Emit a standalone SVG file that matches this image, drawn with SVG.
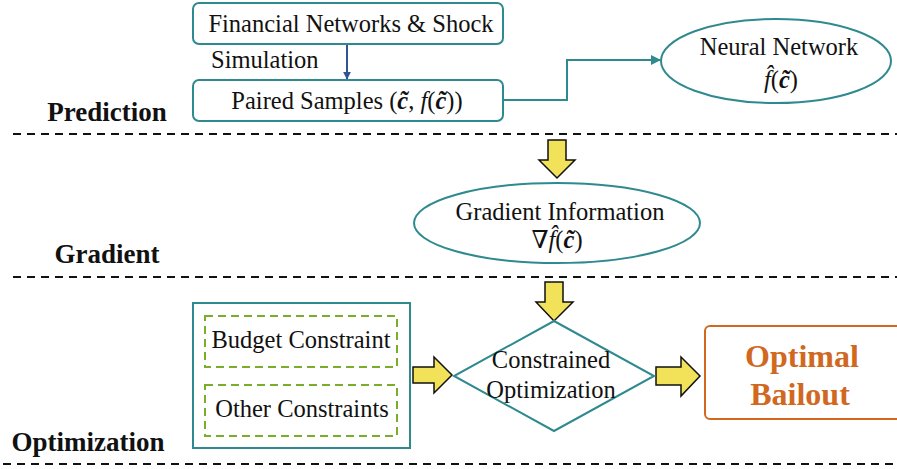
<svg xmlns="http://www.w3.org/2000/svg" width="897" height="469" viewBox="0 0 897 469">
<defs>
<style>
.t{font-family:'Liberation Serif','Tinos','DejaVu Serif',serif;font-size:24.5px;fill:#111;}
.lbl{font-family:'Liberation Serif','Tinos','DejaVu Serif',serif;font-size:27px;font-weight:bold;fill:#111;}
.ob{font-family:'Liberation Serif','Tinos','DejaVu Serif',serif;font-size:32px;font-weight:bold;fill:#D0691F;}
.node{fill:#fff;stroke:#2F8A8F;stroke-width:2;}
.green{fill:none;stroke:#7AAE2A;stroke-width:2;stroke-dasharray:8 5;}
.sep{stroke:#111;stroke-width:2;stroke-dasharray:8 6;fill:none;}
.yel{fill:#F2E25A;stroke:#111;stroke-width:1.5;stroke-linejoin:miter;}
.bi{font-weight:bold;font-style:italic;}
.it{font-style:italic;}
</style>
<marker id="ahBlue" viewBox="0 0 10 10" refX="9" refY="5" markerWidth="4" markerHeight="4" orient="auto" markerUnits="strokeWidth">
<path d="M0,0 L10,5 L0,10 z" fill="#2F5597"/>
</marker>
<marker id="ahTeal" viewBox="0 0 10 10" refX="9" refY="5" markerWidth="5" markerHeight="5" orient="auto" markerUnits="strokeWidth">
<path d="M0,0 L10,5 L0,10 z" fill="#2F8A8F"/>
</marker>
</defs>
<rect width="897" height="469" fill="#fff"/>

<g id="separators">
<line class="sep" x1="13" y1="134" x2="897" y2="134"/>
<line class="sep" x1="13" y1="277" x2="897" y2="277"/>
<line class="sep" x1="3" y1="464" x2="897" y2="464"/>
</g>

<g id="section-labels">
<text class="lbl" x="107" y="121" text-anchor="middle">Prediction</text>
<text class="lbl" x="107" y="263" text-anchor="middle">Gradient</text>
<text class="lbl" x="88" y="451" text-anchor="middle">Optimization</text>
</g>

<g id="connectors">
<line x1="347" y1="44" x2="347" y2="79" stroke="#2F5597" stroke-width="2" marker-end="url(#ahBlue)"/>
<text class="t" x="211" y="68">Simulation</text>
<polyline points="503,100 567,100 567,60 660,60" fill="none" stroke="#2F8A8F" stroke-width="2" marker-end="url(#ahTeal)"/>
<polygon id="arrow-down-1" class="yel" points="548,140 566,140 566,160 575,160 557,178 539,160 548,160"/>
<polygon id="arrow-down-2" class="yel" points="545,282 563,282 563,302 573,302 554,321 536,302 545,302"/>
<polygon id="arrow-right-1" class="yel" points="413,367 434,367 434,357 452,375 434,393 434,383 413,383"/>
<polygon id="arrow-right-2" class="yel" points="656,367 681,367 681,357 700,376 681,396 681,385 656,385"/>
</g>

<g id="financial-networks">
<rect class="node" x="193" y="3" width="310" height="41" rx="6"/>
<text class="t" x="351" y="32" text-anchor="middle">Financial Networks &amp; Shock</text>
</g>

<g id="paired-samples">
<rect class="node" x="193" y="80" width="310" height="41" rx="6"/>
<text class="t" x="347" y="109" text-anchor="middle">Paired Samples (<tspan class="bi">c̃</tspan>, <tspan class="it">f</tspan>(<tspan class="bi">c̃</tspan>))</text>
</g>

<g id="neural-network">
<ellipse class="node" cx="776" cy="61" rx="115" ry="42"/>
<text class="t" x="779" y="55" text-anchor="middle">Neural Network</text>
<text class="t" x="781" y="88" text-anchor="middle"><tspan class="it">f̂</tspan>(<tspan class="bi">c̃</tspan>)</text>
</g>

<g id="gradient-information">
<ellipse class="node" cx="557" cy="223" rx="143" ry="40"/>
<text class="t" x="560" y="220" text-anchor="middle">Gradient Information</text>
<text class="t" x="557" y="248" text-anchor="middle">∇<tspan class="it">f̂</tspan>(<tspan class="bi">c̃</tspan>)</text>
</g>

<g id="constraints">
<rect class="node" x="193" y="303" width="217" height="145"/>
<rect class="green" x="205" y="316" width="192" height="51"/>
<text class="t" x="301" y="348" text-anchor="middle">Budget Constraint</text>
<rect class="green" x="205" y="385" width="192" height="51"/>
<text class="t" x="302" y="417" text-anchor="middle">Other Constraints</text>
</g>

<g id="constrained-optimization">
<polygon class="node" points="554,321 654,376 554,431 454,376"/>
<text class="t" x="551" y="368" text-anchor="middle">Constrained</text>
<text class="t" x="551" y="398" text-anchor="middle">Optimization</text>
</g>

<g id="optimal-bailout">
<rect x="705" y="326" width="200" height="93" rx="5" fill="#fff" stroke="#D0691F" stroke-width="2"/>
<text class="ob" x="802" y="367" text-anchor="middle">Optimal</text>
<text class="ob" x="800" y="405" text-anchor="middle">Bailout</text>
</g>
</svg>
